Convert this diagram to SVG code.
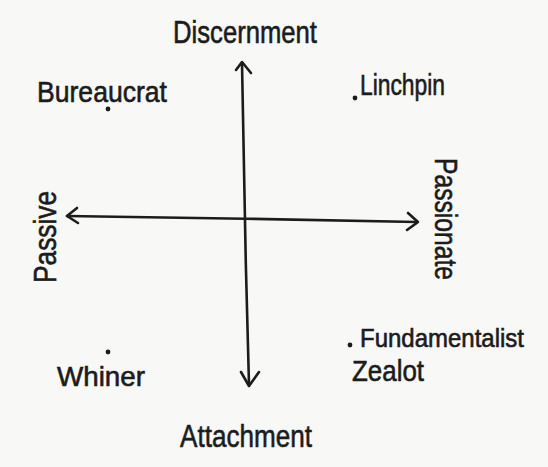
<svg xmlns="http://www.w3.org/2000/svg" width="548" height="467" viewBox="0 0 548 467">
<style>
.lbl{font-family:"Liberation Sans","DejaVu Sans",sans-serif;fill:#1c1c1c;stroke:#1c1c1c;stroke-width:0.6;}
.ax{fill:none;stroke:#1c1c1c;stroke-width:2.6;stroke-linecap:round;stroke-linejoin:round;}
.dot{fill:#1c1c1c;}
</style>
<rect width="548" height="467" fill="#f8f8f7"/>
<g id="connectors">
<path class="ax" d="M242,63 C243,150 246,280 249,385"/>
<path class="ax" d="M236,70 L242,62 L251,73"/>
<path class="ax" d="M241,372 L249,386 L259,372"/>
<path class="ax" d="M67,216 C150,217 330,220 417,222"/>
<path class="ax" d="M77,208 L67,216 L78,223"/>
<path class="ax" d="M408,213 L418,222 L407,230"/>
</g>
<g id="discernment"><text class="lbl" x="173" y="43" font-size="32" textLength="144" lengthAdjust="spacingAndGlyphs">Discernment</text></g>
<g id="attachment"><text class="lbl" x="180" y="447" font-size="32" textLength="132" lengthAdjust="spacingAndGlyphs">Attachment</text></g>
<g id="passive"><text class="lbl" transform="translate(56,283) rotate(-90)" x="0" y="0" font-size="31" textLength="92" lengthAdjust="spacingAndGlyphs">Passive</text></g>
<g id="passionate"><text class="lbl" transform="translate(435,158) rotate(90)" x="0" y="0" font-size="31" textLength="122" lengthAdjust="spacingAndGlyphs">Passionate</text></g>
<g id="bureaucrat"><circle class="dot" cx="108" cy="109" r="2.4"/><text class="lbl" x="37" y="102" font-size="30" textLength="130" lengthAdjust="spacingAndGlyphs">Bureaucrat</text></g>
<g id="linchpin"><circle class="dot" cx="355" cy="98" r="2.4"/><text class="lbl" x="360" y="95" font-size="29" textLength="85" lengthAdjust="spacingAndGlyphs">Linchpin</text></g>
<g id="whiner"><circle class="dot" cx="108" cy="352" r="2.4"/><text class="lbl" x="57" y="386" font-size="28" textLength="88" lengthAdjust="spacingAndGlyphs">Whiner</text></g>
<g id="fundamentalist"><circle class="dot" cx="350" cy="345" r="2.4"/><text class="lbl" x="360" y="347" font-size="25" textLength="164" lengthAdjust="spacingAndGlyphs">Fundamentalist</text></g>
<g id="zealot"><text class="lbl" x="352" y="381" font-size="30" textLength="72" lengthAdjust="spacingAndGlyphs">Zealot</text></g>
</svg>
